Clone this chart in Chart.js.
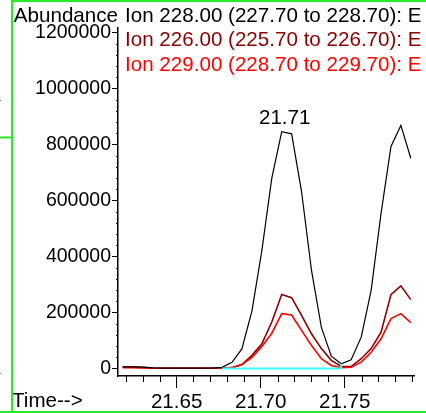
<!DOCTYPE html>
<html>
<head>
<meta charset="utf-8">
<script src="https://cdn.jsdelivr.net/npm/chart.js@4.4.1/dist/chart.umd.min.js"></script>
<style>
  html, body { margin: 0; padding: 0; background: #fff; }
  #wrap { width: 426px; height: 413px; position: relative; }
</style>
</head>
<body>
<div id="wrap"><canvas id="tic"></canvas></div>
<script>
// retention times (min)
const times = [21.6179, 21.6238, 21.6298, 21.6357, 21.6416, 21.6475, 21.6534, 21.6593, 21.6652, 21.6711,
  21.6770, 21.6829, 21.6888, 21.6948, 21.7007, 21.7066, 21.7125, 21.7184, 21.7243, 21.7302,
  21.7361, 21.7420, 21.7479, 21.7538, 21.7598, 21.7657, 21.7716, 21.7775, 21.7834, 21.7893];

// abundances
const ion228 = [6000, 6000, 5000, 2000, 1000, 1000, 1000, 1000, 1000, 1000,
  4000, 22000, 70000, 206000, 422000, 680000, 846000, 838000, 632000, 351000,
  147000, 44000, 17000, 31000, 112000, 279000, 554000, 793000, 868000, 751000];
const ion226 = [5000, 5000, 4000, 2000, 1000, 1000, 1000, 1000, 1000, 1000,
  1000, 3000, 14000, 47000, 88000, 166000, 264000, 253000, 190000, 124000,
  71000, 29000, 7000, 7000, 35000, 71000, 130000, 264000, 295000, 246000];
const ion229 = [3000, 3000, 2000, 1000, 1000, 1000, 1000, 1000, 1000, 1000,
  1000, 3000, 14000, 40000, 79000, 126000, 196000, 191000, 136000, 82000,
  35000, 11000, 2500, 4700, 22600, 58000, 106000, 178000, 196000, 164000];

// integration baseline (start / end time of peak)
const baseStart = 21.6770;
const baseEnd = 21.7479;

const legendTexts = [
  'Ion 228.00 (227.70 to 228.70): E',
  'Ion 226.00 (225.70 to 226.70): E',
  'Ion 229.00 (228.70 to 229.70): E'
];
const legendColors = ['#000000', '#8b0000', '#ff0000'];
const peakLabel = '21.71';

const xTickLabels = ['21.65', '21.70', '21.75'];
const xMinorTicks = [21.62, 21.63, 21.64, 21.65, 21.66, 21.67, 21.68, 21.69, 21.70,
  21.71, 21.72, 21.73, 21.74, 21.75, 21.76, 21.77, 21.78, 21.79];
const yTickLabels = ['0', '200000', '400000', '600000', '800000', '1000000', '1200000'];

const FONT = '"Liberation Sans", Arial, sans-serif';
const green = 'rgb(40, 235, 40)';

// y minor ticks every 40000 between the labelled ones
const yMinorTicks = [];
for (let v = 0; v <= 1200000; v += 40000) yMinorTicks.push(v);

const pts = (ys) => times.map((t, i) => ({ x: t, y: ys[i] }));
const i0 = times.indexOf(baseEnd);

const decor = {
  id: 'decor',
  beforeDraw(chart) {
    const c = chart.ctx;
    c.save();
    c.fillStyle = '#fff';
    c.fillRect(0, 0, chart.width, chart.height);
    c.restore();
  },
  afterDraw(chart) {
    const c = chart.ctx;
    const xs = chart.scales.x, ys = chart.scales.y;
    c.save();
    // minor ticks
    c.strokeStyle = '#000';
    c.lineWidth = 1;
    c.beginPath();
    xMinorTicks.forEach(v => {
      if (xTickLabels.includes(v.toFixed(2))) return;
      const px = Math.round(xs.getPixelForValue(v)) + 0.5;
      c.moveTo(px, ys.bottom);
      c.lineTo(px, ys.bottom + 6);
    });
    yMinorTicks.forEach(v => {
      if (yTickLabels.includes(String(v))) return;
      const py = Math.round(ys.getPixelForValue(v)) + 0.5;
      c.moveTo(xs.left - 2, py);
      c.lineTo(xs.left, py);
    });
    c.stroke();

    // texts
    c.font = '20.6px ' + FONT;
    c.textBaseline = 'middle';
    c.fillStyle = '#000';
    c.textAlign = 'right';
    c.fillText('Abundance', 118, 16);
    c.textAlign = 'left';
    legendTexts.forEach((t, i) => {
      c.fillStyle = legendColors[i];
      c.fillText(t, 125, 16 + i * 24.5);
    });
    c.fillStyle = '#000';
    c.fillText('Time-->', 12, 401);

    // peak label
    const meta = chart.getDatasetMeta(0);
    let best = 0;
    for (let i = 0; i < 20; i++) if (ion228[i] > ion228[best]) best = i;
    const p = meta.data[best];
    c.textAlign = 'center';
    c.fillText(peakLabel, p.x + 3, p.y - 13);

    // green frame
    c.strokeStyle = green;
    c.lineWidth = 2;
    c.beginPath();
    c.moveTo(12, 0); c.lineTo(12, 413);
    c.moveTo(12, 1); c.lineTo(426, 1);
    c.moveTo(0, 412); c.lineTo(426, 412);
    c.moveTo(0, 137.5); c.lineTo(12, 137.5);
    c.stroke();
    c.fillStyle = '#888';
    c.fillRect(0, 100, 1, 1);
    c.fillRect(0, 373, 1, 1);
    c.restore();
  }
};

const ctx = document.getElementById('tic').getContext('2d');
const chart = new Chart(ctx, {
  type: 'line',
  data: {
    datasets: [
      { label: 'Ion 228.00', data: pts(ion228), borderColor: '#000', borderWidth: 1.2, order: 2 },
      { label: 'Ion 226.00', data: pts(ion226), borderColor: '#8b0000', borderWidth: 1.6, order: 4 },
      { label: 'Ion 229.00', data: pts(ion229), borderColor: '#ff0000', borderWidth: 1.6, order: 3 },
      {
        label: 'baseline',
        data: [{ x: baseStart, y: 0 }, { x: baseEnd, y: 0 }, { x: baseEnd, y: ion228[i0] }],
        borderColor: '#40ffff', borderWidth: 2, order: 1
      }
    ]
  },
  options: {
    responsive: true,
    maintainAspectRatio: false,
    animation: false,
    layout: { padding: { left: 0, top: 28, right: 12, bottom: 0 } },
    elements: { point: { radius: 0 }, line: { tension: 0, fill: false } },
    plugins: { legend: { display: false }, tooltip: { enabled: false } },
    scales: {
      x: {
        type: 'linear',
        min: 21.6151,
        max: 21.7912,
        afterFit: (s) => { s.height = 37; },
        afterBuildTicks: (s) => { s.ticks = xMinorTicks.map(v => ({ value: v })); },
        grid: {
          drawOnChartArea: false,
          tickLength: 12,
          tickColor: (c) => xTickLabels.includes(c.tick.value.toFixed(2)) ? '#000' : 'rgba(0,0,0,0)'
        },
        border: { color: '#000', width: 1.5 },
        ticks: {
          autoSkip: false,
          maxRotation: 0,
          padding: 2,
          color: '#000',
          font: { family: FONT, size: 20.6 },
          callback: (v) => xTickLabels.includes(v.toFixed(2)) ? v.toFixed(2) : ''
        }
      },
      y: {
        min: -26800,
        max: 1216000,
        afterFit: (s) => { s.width = 118; },
        afterBuildTicks: (s) => { s.ticks = yMinorTicks.map(v => ({ value: v })); },
        grid: {
          drawOnChartArea: false,
          tickLength: 6,
          tickColor: (c) => yTickLabels.includes(String(c.tick.value)) ? '#000' : 'rgba(0,0,0,0)'
        },
        border: { color: '#000', width: 1.5 },
        ticks: {
          autoSkip: false,
          padding: 1,
          color: '#000',
          font: { family: FONT, size: 19.5 },
          callback: (v) => yTickLabels.includes(String(v)) ? String(v) : ''
        }
      }
    }
  },
  plugins: [decor]
});
</script>
</body>
</html>
